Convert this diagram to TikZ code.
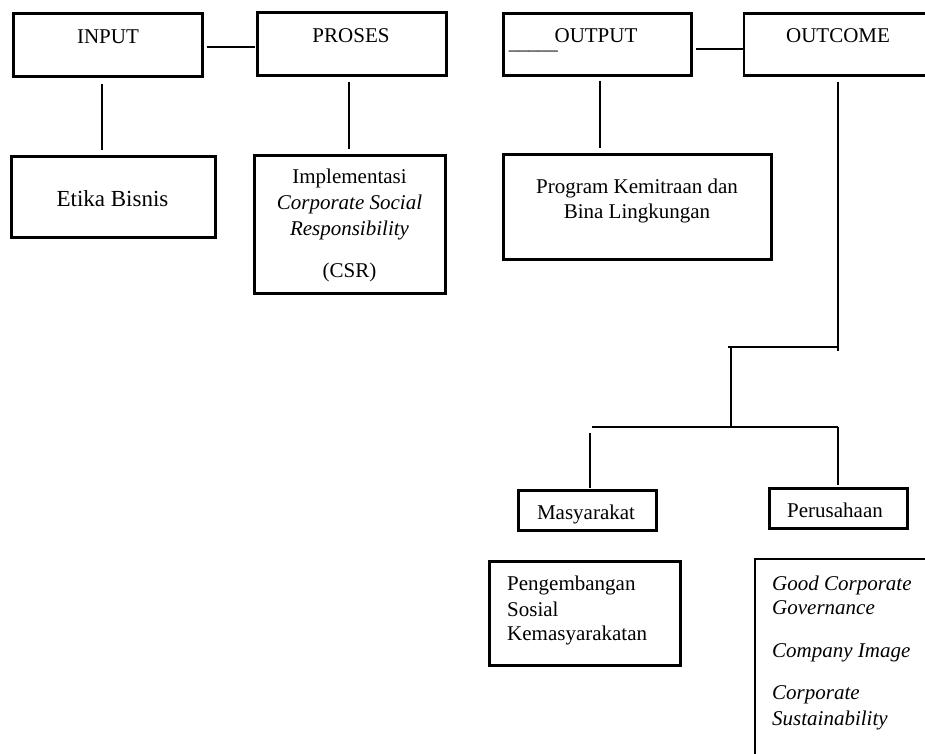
\documentclass[tikz,border=0pt]{standalone}
\usepackage{fontspec}
\setmainfont{Liberation Serif}
\begin{document}
\begin{tikzpicture}[x=1pt,y=-1pt,
  box/.style={draw, line width=2.9pt, inner sep=0pt},
  link/.style={line width=1.8pt},
  lbl/.style={inner sep=0pt, anchor=base, font=\fontsize{21}{25}\selectfont},
  lbll/.style={lbl, anchor=base west}]
\useasboundingbox (0,0) rectangle (925,753);
\fill[white] (0,0) rectangle (925,753);
\clip (0,0) rectangle (925,753);

% boxes
\node[box, minimum width=189pt, minimum height=63pt] (input) at (108,45) {};
\node[box, minimum width=189pt, minimum height=63pt] (proses) at (352,44) {};
\node[box, minimum width=188pt, minimum height=62pt] (output) at (597.5,44.5) {};
\node[box, minimum width=190pt, minimum height=62pt] (outcome) at (839,44.5) {};
\node[box, minimum width=204pt, minimum height=81pt] (etika) at (113.5,197) {};
\node[box, minimum width=191pt, minimum height=138pt] (csr) at (350,224.5) {};
\node[box, minimum width=268pt, minimum height=105pt] (program) at (637.5,207) {};
\node[box, minimum width=138pt, minimum height=40pt] (masy) at (587.5,510.5) {};
\node[box, minimum width=138pt, minimum height=40pt] (perus) at (838.5,508.5) {};
\node[box, minimum width=191pt, minimum height=104pt] (peng) at (585,613.5) {};
\node[box, minimum width=179pt, minimum height=220pt] (gcg) at (844.5,669) {};

% texts
\node[lbl] (tinput) at (108,43) {INPUT};
\node[lbl] (tproses) at (351,42) {PROSES};
\node[lbl] (toutput) at (596,42) {OUTPUT};
\node[lbl, anchor=base east, font=\fontsize{19.6}{24}\selectfont] (tus) at (558,49) {\_\_\_\_\_};
\node[lbl] (toutcome) at (838,42) {OUTCOME};
\node[lbl, font=\fontsize{23}{27}\selectfont] (tetika) at (112.5,206) {Etika Bisnis};
\node[lbl] (tcsr1) at (349.5,183) {Implementasi};
\node[lbl] (tcsr2) at (349.5,209) {\textit{Corporate Social}};
\node[lbl] (tcsr3) at (349.5,235) {\textit{Responsibility}};
\node[lbl] (tcsr4) at (349.5,277) {(CSR)};
\node[lbl] (tprog1) at (637,193) {Program Kemitraan dan};
\node[lbl] (tprog2) at (637,218) {Bina Lingkungan};
\node[lbl] (tmasy) at (586,519) {Masyarakat};
\node[lbl] (tperus) at (835,517) {Perusahaan};
\node[lbll] (tpeng1) at (507,590) {Pengembangan};
\node[lbll] (tpeng2) at (507,616) {Sosial};
\node[lbll] (tpeng3) at (507,640) {Kemasyarakatan};
\node[lbll] (tg1) at (772,590) {\textit{Good Corporate}};
\node[lbll] (tg2) at (772,614) {\textit{Governance}};
\node[lbll] (tg3) at (772,657) {\textit{Company Image}};
\node[lbll] (tg4) at (772,699) {\textit{Corporate}};
\node[lbll] (tg5) at (772,725) {\textit{Sustainability}};

% connectors
\draw[link] ([xshift=3pt,yshift=-2pt]input.east) -- ([xshift=-1pt,yshift=-3pt]proses.west);
\draw[link] ([xshift=-6pt,yshift=-6pt]input.south) -- ([xshift=-11.5pt,yshift=5pt]etika.north);
\draw[link] ([xshift=-3pt,yshift=-5pt]proses.south) -- ([xshift=-1pt,yshift=5pt]csr.north);
\draw[link] ([xshift=3pt,yshift=-4.5pt]output.east) -- ([yshift=-4.5pt]outcome.west);
\draw[link] ([xshift=2.5pt,yshift=-4pt]output.south) -- ([xshift=-37.5pt,yshift=5pt]program.north);

% outcome tree
\coordinate (t1) at (838,351);
\coordinate (h1l) at (728,347);
\coordinate (h1r) at (837,347);
\coordinate (j0) at (731,348);
\coordinate (j) at (731,427);
\coordinate (h2l) at (592,427);
\coordinate (h2r) at (838,427);
\coordinate (m1) at (590,433);
\draw[link] ([xshift=-1pt,yshift=-5pt]outcome.south) -- (t1);
\draw[link] (h1l) -- (h1r);
\draw[link] (j0) -- (j);
\draw[link] (h2l) -- (h2r);
\draw[link] (m1) -- ([xshift=2.5pt,yshift=1pt]masy.north);
\draw[link] (h2r) -- ([xshift=-0.5pt,yshift=2pt]perus.north);
\end{tikzpicture}
\end{document}
